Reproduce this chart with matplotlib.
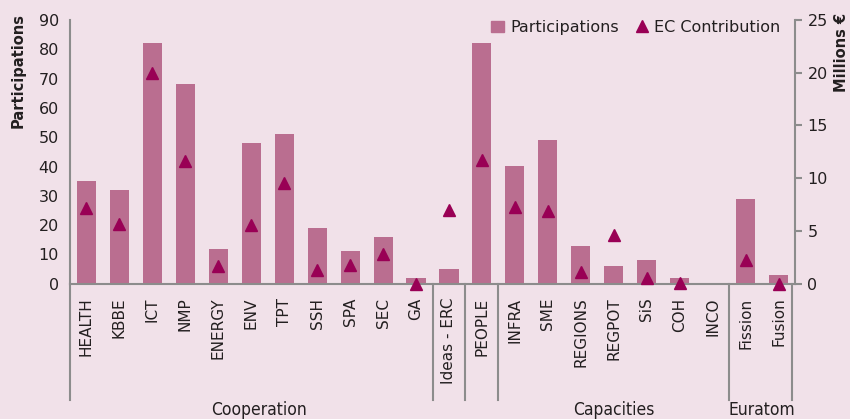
import matplotlib
matplotlib.use("Agg")
import matplotlib.pyplot as plt
import matplotlib.transforms as mtransforms
from matplotlib.lines import Line2D
from matplotlib.patches import Patch

categories = ["HEALTH", "KBBE", "ICT", "NMP", "ENERGY", "ENV", "TPT", "SSH", "SPA", "SEC", "GA",
              "Ideas - ERC", "PEOPLE", "INFRA", "SME", "REGIONS", "REGPOT", "SiS", "COH", "INCO",
              "Fission", "Fusion"]
participations = [35, 32, 82, 68, 12, 48, 51, 19, 11, 16, 2,
                  5, 82, 40, 49, 13, 6, 8, 2, 0, 29, 3]
ec_contribution = [7.2, 5.7, 20.0, 11.6, 1.7, 5.6, 9.5, 1.3, 1.75, 2.8, 0.0,
                   7.0, 11.75, 7.3, 6.85, 1.15, 4.65, 0.55, 0.1, None, 2.25, 0.0]
groups = ["Cooperation", "Capacities", "Euratom"]
group_label_pos = [5.25, 16.0, 20.5]
group_bounds = [10.5, 11.5, 12.5, 19.5]

bg = "#F1E1E9"
bar_c = "#BA6E90"
tri_c = "#990055"
axis_c = "#8C8C8C"
text_c = "#231F20"

fig = plt.figure(figsize=(8.5, 4.19), dpi=100, facecolor=bg)
ax = fig.add_axes([70/850, 1-283.7/419, 725/850, 263.7/419])
ax.set_facecolor(bg)
x = list(range(len(categories)))
ax.bar(x, participations, width=0.58, color=bar_c, zorder=2)
ax.set_xlim(-0.5, len(categories)-0.5)
ax.set_ylim(0, 90)
ax.set_yticks(range(0, 91, 10))
ax.tick_params(axis="y", length=0, labelsize=11.5, colors=text_c, pad=8)
ax.set_xticks(x)
ax.set_xticklabels(categories, rotation=90, fontsize=11, color=text_c)
ax.tick_params(axis="x", length=0, pad=10)
for s in ["top", "right"]:
    ax.spines[s].set_visible(False)
for s in ["left", "bottom"]:
    ax.spines[s].set_color(axis_c)
    ax.spines[s].set_linewidth(1.5)
ax.set_ylabel("Participations", fontsize=10.5, fontweight="bold", color=text_c, loc="top", va="center")
ax.yaxis.set_label_coords(-0.0717, 1.027)

ax2 = ax.twinx()
ax2.set_ylim(0, 25)
ex = [i for i, v in zip(x, ec_contribution) if v is not None]
ev = [v for v in ec_contribution if v is not None]
ax2.plot(ex, ev, linestyle="none", marker="^", markersize=9, color=tri_c, zorder=3, clip_on=False)
ax2.set_yticks(range(0, 26, 5))
ax2.tick_params(axis="y", length=5, width=1.5, color=axis_c, labelsize=11.5, labelcolor=text_c, pad=4)
for s in ["top", "left", "bottom"]:
    ax2.spines[s].set_visible(False)
ax2.spines["right"].set_color(axis_c)
ax2.spines["right"].set_linewidth(1.5)
ax2.set_ylabel("Millions €", fontsize=10.5, fontweight="bold", color=text_c, loc="top", va="center")
ax2.yaxis.set_label_coords(1.064, 1.027)

trans = mtransforms.blended_transform_factory(ax.transData, ax.transAxes)
ybot = -(400-283.7)/263.7
for b in [-0.5] + group_bounds + [len(categories)-0.6]:
    ax.add_line(Line2D([b, b], [0, ybot], transform=trans, color=axis_c, lw=1.5, clip_on=False))
ylab = -(410-283.7)/263.7
for g, p in zip(groups, group_label_pos):
    ax.text(p, ylab, g, transform=trans, ha="center", va="center", fontsize=12.5,
            color=text_c, family="DejaVu Sans", fontstretch="condensed")

handles = [Patch(color=bar_c, label="Participations"),
           Line2D([], [], linestyle="none", marker="^", markersize=9, color=tri_c, label="EC Contribution")]
ax2.legend(handles=handles, loc="upper right", ncol=2, frameon=False, fontsize=11.5,
           handlelength=0.8, handletextpad=0.4, columnspacing=1.0, bbox_to_anchor=(1.0, 1.055),
           labelcolor=text_c)

fig.savefig("out.png", dpi=100, facecolor=bg)
